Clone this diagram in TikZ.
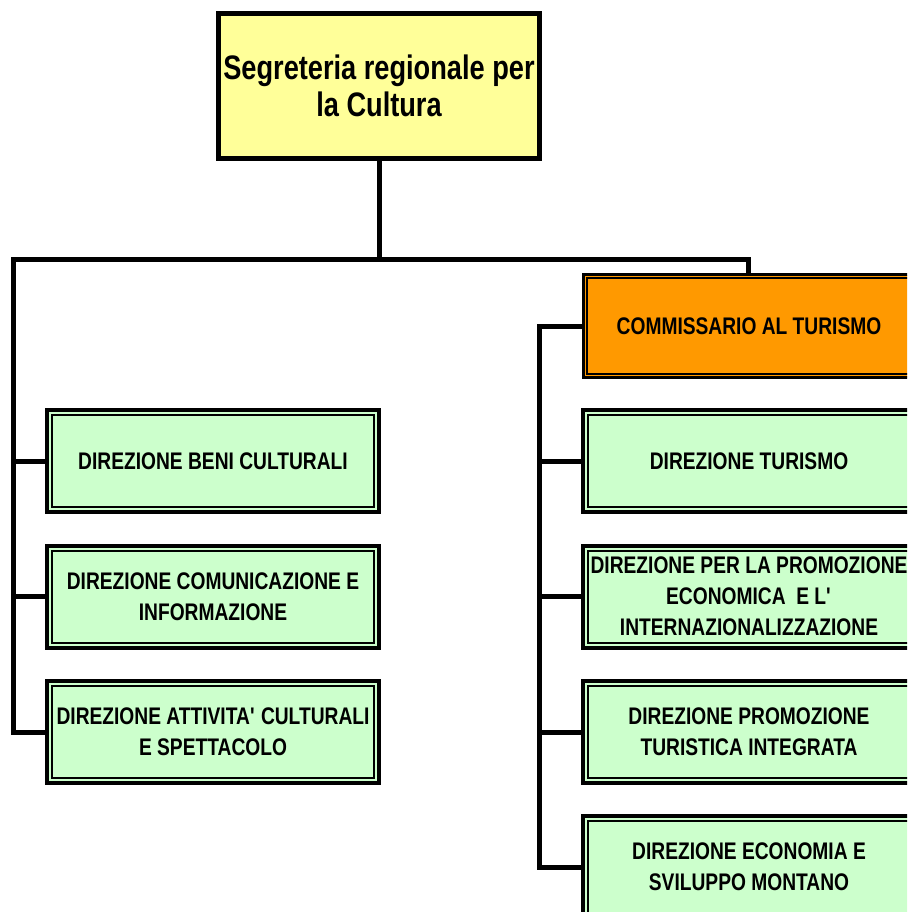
\documentclass[tikz,border=0pt]{standalone}
\usepackage{fontspec}
\setmainfont{Liberation Sans}[FakeStretch=0.8]
\definecolor{boxgreen}{HTML}{CCFFCC}
\definecolor{boxyellow}{HTML}{FFFF99}
\definecolor{boxorange}{HTML}{FF9900}
\tikzset{
  unitbox/.style={draw, line width=4, fill=boxgreen, minimum width=332, minimum height=102,
    inner sep=0, outer sep=0, align=center, font=\bfseries\fontsize{24}{31}\selectfont},
  conn/.style={line width=5, line join=miter},
}
\begin{document}
\begin{tikzpicture}[x=1pt, y=-1pt]
    \useasboundingbox (0,0) rectangle (907,912);
    \clip (0,0) rectangle (907,912);
    % vertice
    \node[draw, line width=5, fill=boxyellow, minimum width=321, minimum height=145, inner sep=0,
      outer sep=0, align=center, font=\bfseries\fontsize{34}{37}\selectfont] (segr) at (379,86)
      {Segreteria regionale per\\la Cultura};
    % direzioni a sinistra
    \node[unitbox] (beni) at (213,461) {DIREZIONE BENI CULTURALI};
    \node[unitbox] (comun) at (213,596.5) {DIREZIONE COMUNICAZIONE E\\INFORMAZIONE};
    \node[unitbox] (attiv) at (213,732) {DIREZIONE ATTIVITA\textquotesingle{} CULTURALI\\E SPETTACOLO};
    % commissario e direzioni a destra
    \node[unitbox, line width=3, fill=boxorange, minimum height=103] (comm) at (749,326)
      {COMMISSARIO AL TURISMO};
    \node[unitbox] (tur) at (749,461) {DIREZIONE TURISMO};
    \node[unitbox] (promec) at (749,596.5)
      {DIREZIONE PER LA PROMOZIONE\\ECONOMICA\ \ E L\textquotesingle\\INTERNAZIONALIZZAZIONE};
    \node[unitbox] (promtur) at (749,732) {DIREZIONE PROMOZIONE\\TURISTICA INTEGRATA};
    \node[unitbox] (mont) at (749,867) {DIREZIONE ECONOMIA E\\SVILUPPO MONTANO};
    % bordo interno
    \foreach \n in {beni, comun, attiv, tur, promec, promtur, mont}
      \draw[line width=2] ([shift={(5,5)}]\n.north west) rectangle ([shift={(-5,-5)}]\n.south east);
    \draw[line width=2] ([shift={(3.5,3.5)}]comm.north west) rectangle ([shift={(-3.5,-3.5)}]comm.south east);
    % collegamenti
    \coordinate (busL) at (13.5,259.5);
    \coordinate (busR) at (748,259.5);
    \coordinate (trunkR) at (539.5,326.5);
    \draw[conn] (segr.south) -- (segr.south |- busL);
    \draw[conn] (attiv.west) -| (busL) -- (busR) -- (busR |- comm.north);
    \draw[conn] (beni.west) -- (beni.west -| busL);
    \draw[conn] (comun.west) -- (comun.west -| busL);
    \draw[conn] (comm.west) -| (trunkR |- mont.west) -- (mont.west);
    \foreach \n in {tur, promec, promtur}
      \draw[conn] (\n.west) -- (\n.west -| trunkR);
\end{tikzpicture}
\end{document}
